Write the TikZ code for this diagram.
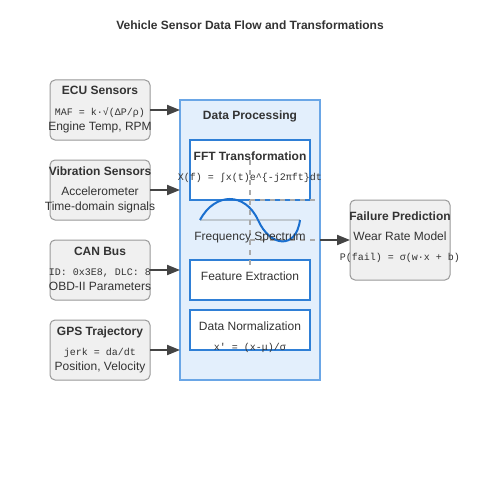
\documentclass[tikz,border=0pt]{standalone}
\usepackage{fontspec}
\setmainfont{Liberation Sans}
\newfontfamily\monof{Liberation Mono}
\usetikzlibrary{arrows.meta}
\definecolor{txt}{HTML}{333333}
\definecolor{boxfill}{HTML}{F0F0F0}
\definecolor{boxedge}{HTML}{999999}
\definecolor{procfill}{HTML}{E3EFFC}
\definecolor{procedge}{HTML}{6AA6E6}
\definecolor{inedge}{HTML}{2F7FD6}
\definecolor{arrowc}{HTML}{444444}
\definecolor{dashc}{HTML}{AAAAAA}
\definecolor{axisc}{HTML}{BFC8D0}
\definecolor{wavec}{HTML}{1A6FCF}
\tikzset{
  graybox/.style={draw=boxedge, fill=boxfill, rounded corners=5pt, line width=1pt, inner sep=0pt, outer sep=0pt},
  procbox/.style={draw=procedge, fill=procfill, line width=1.5pt, inner sep=0pt, outer sep=0pt},
  innerbox/.style={draw=inedge, fill=white, line width=2pt, inner sep=0pt, outer sep=0pt},
  ttl/.style={font=\fontsize{12}{14}\selectfont\bfseries, text=txt, anchor=base, inner sep=0pt},
  lbl/.style={font=\fontsize{12}{14}\selectfont, text=txt, anchor=base, inner sep=0pt},
  mono/.style={font=\fontsize{10}{12}\selectfont\monof, text=txt, anchor=base, inner sep=0pt},
  flow/.style={draw=arrowc, line width=2pt, -{Triangle[length=13pt,width=10pt]}},
  dashline/.style={draw=dashc, line width=2pt, dash pattern=on 5pt off 5pt},
}
\begin{document}
\begin{tikzpicture}[x=1pt,y=-1pt]
\fill[white] (0,0) rectangle (500,500);
\useasboundingbox (0,0) rectangle (500,500);

\node[ttl] (title) at (250,30) {Vehicle Sensor Data Flow and Transformations};

% sensor boxes
\node[graybox, minimum width=100, minimum height=60] (ecu) at (100,110) {};
\node[graybox, minimum width=100, minimum height=60] (vib) at (100,190) {};
\node[graybox, minimum width=100, minimum height=60] (can) at (100,270) {};
\node[graybox, minimum width=100, minimum height=60] (gps) at (100,350) {};

% processing
\node[procbox, minimum width=140, minimum height=280] (proc) at (250,240) {};
\node[innerbox, minimum width=120, minimum height=60] (fft) at (250,170) {};
\node[innerbox, minimum width=120, minimum height=40] (feat) at (250,280) {};
\node[innerbox, minimum width=120, minimum height=40] (norm) at (250,330) {};

% failure prediction
\node[graybox, minimum width=100, minimum height=80] (fail) at (400,240) {};

% axis and wave
\coordinate (axA) at (200,220);
\coordinate (axB) at (300,220);
\draw[axisc, line width=1.5pt] (axA) -- (axB);

% dashed lines
\coordinate (dv1) at (250,160);
\coordinate (dv2) at (250,270);
\coordinate (dh1) at (250,200);
\coordinate (dh2) at (250,240);
\coordinate (pe1) at (320,200);
\coordinate (pe2) at (320,240);
\draw[dashline] (dv1) -- (dv2);
\draw[dashline] (dh1) -- (pe1);
\draw[dashline] (dh2) -- (pe2);

\draw[wavec, line width=2pt] (axA) .. controls (215,192) and (245,192) .. (258,220)
  .. controls (270,247) and (296,250) .. (axB);

% arrows
\draw[flow] (ecu.east) -- (ecu.east -| proc.west);
\draw[flow] (vib.east) -- (vib.east -| proc.west);
\draw[flow] (can.east) -- (can.east -| proc.west);
\draw[flow] (gps.east) -- (gps.east -| proc.west);
\draw[flow] (pe2) -- (fail.west);

% sensor texts
\node[ttl] (ecu1) at (100,95) {ECU Sensors};
\node[mono] (ecu2) at (100,115) {MAF = k·√(ΔP/ρ)};
\node[lbl] (ecu3) at (100,130) {Engine Temp, RPM};

\node[ttl] (vib1) at (100,175) {Vibration Sensors};
\node[lbl] (vib2) at (100,195) {Accelerometer};
\node[lbl] (vib3) at (100,210) {Time-domain signals};

\node[ttl] (can1) at (100,255) {CAN Bus};
\node[mono] (can2) at (100,275) {ID: 0x3E8, DLC: 8};
\node[lbl] (can3) at (100,290) {OBD-II Parameters};

\node[ttl] (gps1) at (100,335) {GPS Trajectory};
\node[mono] (gps2) at (100,355) {jerk = da/dt};
\node[lbl] (gps3) at (100,370) {Position, Velocity};

% processing texts
\node[ttl] (proc1) at (250,120) {Data Processing};
\node[ttl] (fft1) at (250,160) {FFT Transformation};
\node[mono] (fft2) at (250,180) {X(f) = ∫x(t)e\textasciicircum\{-j2πft\}dt};
\node[lbl] (spec) at (250,240) {Frequency Spectrum};
\node[lbl] (feat1) at (250,280) {Feature Extraction};
\node[lbl] (norm1) at (250,330) {Data Normalization};
\node[mono] (norm2) at (250,350) {x\textquotesingle{} = (x-μ)/σ};

% failure texts
\node[ttl] (fail1) at (400,220) {Failure Prediction};
\node[lbl] (fail2) at (400,240) {Wear Rate Model};
\node[mono] (fail3) at (400,260) {P(fail) = σ(w·x + b)};
\end{tikzpicture}
\end{document}
